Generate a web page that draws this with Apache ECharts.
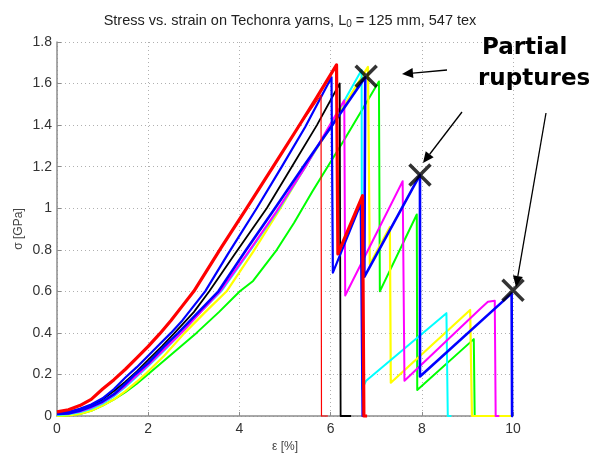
<!DOCTYPE html>
<html><head><meta charset="utf-8">
<script src="https://cdn.jsdelivr.net/npm/echarts@6/dist/echarts.min.js"></script>
<style>html,body{margin:0;padding:0;background:#fff}#c{width:597px;height:462px}</style>
</head><body><div id="c"></div>
<script>
// Tick labels
const xTicks = [0, 2, 4, 6, 8, 10];
const yTicks = [0, 0.2, 0.4, 0.6, 0.8, 1, 1.2, 1.4, 1.6, 1.8];

// Curves: [strain %, stress GPa]
const greenData = [[0,0],[0.25,0.003],[0.5,0.01],[0.75,0.025],[1,0.05],[1.25,0.08],[1.5,0.115],[1.75,0.155],[1.99,0.2],[2.5,0.295],[3.06,0.4],[3.55,0.5],[4.01,0.6],[4.3,0.65],[4.82,0.8],[5.2,0.93],[5.6,1.08],[6.3,1.33],[7.06,1.61],[7.08,0.6],[7.89,0.97],[7.9,0.125],[9.14,0.37],[9.16,0],[9.3,0]];
const yellowData = [[0,0],[0.25,0.003],[0.5,0.01],[0.75,0.025],[1,0.05],[1.25,0.08],[1.5,0.12],[1.75,0.165],[1.93,0.2],[2.35,0.29],[2.8,0.4],[3.25,0.5],[3.72,0.6],[4.3,0.79],[4.9,1.0],[5.5,1.22],[6.2,1.46],[6.82,1.68],[6.86,0.73],[7.3,0.91],[7.32,0.16],[9.06,0.51],[9.1,0],[10,0]];
const cyanData = [[0,0.005],[0.25,0.008],[0.5,0.018],[0.75,0.035],[1,0.06],[1.25,0.095],[1.5,0.14],[1.75,0.19],[2,0.24],[2.35,0.315],[2.73,0.4],[3.15,0.5],[3.6,0.6],[4.25,0.8],[4.85,0.99],[5.45,1.2],[6.05,1.42],[6.68,1.665],[6.69,0.13],[6.78,0.17],[8.54,0.495],[8.57,0],[8.65,0]];
const magentaData = [[0,0.01],[0.25,0.012],[0.5,0.022],[0.75,0.04],[1,0.065],[1.25,0.1],[1.5,0.145],[1.75,0.195],[2,0.245],[2.35,0.32],[2.73,0.4],[3.15,0.5],[3.58,0.6],[4.2,0.79],[4.8,0.98],[5.45,1.2],[6.3,1.52],[6.32,0.58],[7.58,1.13],[7.62,0.17],[9.3,0.52],[9.45,0.55],[9.6,0.555],[9.62,0],[9.7,0]];
const blackData = [[0,0.01],[0.25,0.015],[0.5,0.03],[0.75,0.05],[1,0.08],[1.25,0.12],[1.5,0.165],[1.75,0.215],[2,0.27],[2.3,0.335],[2.58,0.4],[3,0.5],[3.34,0.6],[3.9,0.78],[4.6,1.0],[5.15,1.2],[5.7,1.4],[6.2,1.6],[6.22,0],[6.45,0]];
const blueAData = [[0,0.015],[0.25,0.02],[0.5,0.035],[0.75,0.055],[1,0.085],[1.25,0.13],[1.5,0.185],[1.75,0.235],[2,0.29],[2.25,0.345],[2.5,0.4],[2.75,0.46],[3,0.53],[3.25,0.6],[3.75,0.78],[4.38,1.0],[4.93,1.2],[5.44,1.39],[6.02,1.63],[6.05,0.69],[6.66,1.02],[6.7,0],[6.75,0]];
const blueBData = [[0,0.01],[0.25,0.012],[0.5,0.025],[0.75,0.045],[1,0.07],[1.25,0.105],[1.5,0.155],[1.71,0.2],[2,0.255],[2.33,0.33],[2.66,0.4],[3.1,0.5],[3.54,0.6],[4.15,0.8],[4.78,1.0],[5.4,1.2],[6.1,1.42],[6.76,1.63],[6.74,0.67],[7.96,1.16],[7.96,0.19],[9.97,0.59],[9.98,0],[10,0]];
const redThinData = [[0,0.02],[0.25,0.03],[0.5,0.05],[0.75,0.08],[1,0.13],[1.25,0.175],[1.5,0.225],[1.75,0.28],[2,0.335],[2.25,0.395],[2.5,0.46],[2.75,0.53],[3,0.6],[3.6,0.81],[4.16,1.0],[4.74,1.2],[5.26,1.38],[5.79,1.545],[5.8,0],[5.94,0]];
const redData = [[0,0.02],[0.25,0.03],[0.5,0.05],[0.75,0.08],[1,0.13],[1.25,0.175],[1.5,0.225],[1.75,0.28],[2,0.335],[2.25,0.395],[2.5,0.46],[2.75,0.53],[3,0.6],[3.6,0.81],[4.16,1.0],[4.74,1.2],[5.26,1.38],[5.7,1.535],[6.13,1.69],[6.16,0.78],[6.7,1.06],[6.73,0],[6.8,0]];
// Rupture markers
const ruptureMarks = [[6.78,1.635],[7.96,1.16],[10,0.605]];

const chart = echarts.init(document.getElementById('c'), null, {renderer:'canvas'});
function line(name, data, color, width){
  return {name, type:'line', data, showSymbol:false, symbol:'none', clip:false,
    lineStyle:{color, width, join:'round'}, itemStyle:{color}, animation:false};
}
const option = {
  animation:false,
  backgroundColor:'#fff',
  title:{
    text:'{a|Stress vs. strain on Techonra yarns, L}{s|0}{a| = 125 mm, 547 tex}',
    left:285, top:7, textAlign:'center',
    textStyle:{fontWeight:'normal', rich:{
      a:{fontFamily:'Liberation Sans, Arial', fontSize:14.5, fontWeight:'normal', color:'#222'},
      s:{fontFamily:'Liberation Sans, Arial', fontSize:10, fontWeight:'normal', color:'#222', verticalAlign:'bottom', padding:[7,0,0,0]}
    }}
  },
  grid:{left:57, right:84, top:42, bottom:46},
  xAxis:{type:'value', min:0, max:10, interval:2,
    name:'ε [%]', nameLocation:'middle', nameGap:24,
    nameTextStyle:{fontFamily:'Liberation Sans, Arial', fontSize:12, color:'#444'},
    axisLine:{show:true, lineStyle:{color:'#8c8c8c', width:1.5}},
    axisTick:{show:true, inside:true, length:4, lineStyle:{color:'#8c8c8c'}},
    axisLabel:{fontFamily:'Liberation Sans, Arial', fontSize:14, color:'#333', margin:6,
      formatter:v=>xTicks.includes(v)?String(v):''},
    splitLine:{show:true, lineStyle:{type:[1,3], color:'#b0b0b0', width:1}}
  },
  yAxis:{type:'value', min:0, max:1.8, interval:0.2,
    name:'σ [GPa]', nameLocation:'middle', nameGap:32, nameMoveOverlap:false,
    nameTextStyle:{fontFamily:'Liberation Sans, Arial', fontSize:12, color:'#444'},
    axisLine:{show:true, lineStyle:{color:'#8c8c8c', width:1.5}},
    axisTick:{show:true, inside:true, length:4, lineStyle:{color:'#8c8c8c'}},
    axisLabel:{fontFamily:'Liberation Sans, Arial', fontSize:14, color:'#333', margin:5,
      formatter:v=>{const t=yTicks.find(k=>Math.abs(k-v)<1e-6); return t===undefined?'':String(t);}},
    splitLine:{show:true, lineStyle:{type:[1,3], color:'#b0b0b0', width:1}}
  },
  series:[
    line('green', greenData, '#00ff00', 2),
    line('yellow', yellowData, '#ffff00', 2.2),
    line('cyan', cyanData, '#00ffff', 2),
    line('magenta', magentaData, '#ff00ff', 2),
    line('black', blackData, '#000000', 1.8),
    line('blueA', blueAData, '#0000ff', 2.2),
    line('blueB', blueBData, '#0000ff', 2.6),
    line('redThin', redThinData, '#ff0000', 1.2),
    line('red', redData, '#ff0000', 3.2),
    {name:'ruptures', type:'scatter', data:ruptureMarks, clip:false,
      symbol:'path://M0,0L10,10M10,0L0,10', symbolSize:21,
      itemStyle:{color:'none', borderColor:'#000', borderWidth:3.5}, z:10}
  ]
};
chart.setOption(option);

// Annotation arrows (pixel space, pointing to the rupture markers)
function arrow(x1,y1,x2,y2){
  const ang=Math.atan2(y2-y1,x2-x1), L=11, W=5;
  const bx=x2-L*Math.cos(ang), by=y2-L*Math.sin(ang);
  const px=-Math.sin(ang)*W, py=Math.cos(ang)*W;
  return [
    {type:'line', shape:{x1,y1,x2:bx,y2:by}, style:{stroke:'#000', lineWidth:1.3}, z:20},
    {type:'polygon', shape:{points:[[x2,y2],[bx+px,by+py],[bx-px,by-py]]}, style:{fill:'#000'}, z:20}
  ];
}
const g = [
  {type:'text', left:482, top:37, style:{text:'Partial', font:'bold 23px "DejaVu Sans"', fill:'#000'}, z:20},
  {type:'text', left:478, top:68, style:{text:'ruptures', font:'bold 23px "DejaVu Sans"', fill:'#000'}, z:20},
  ...arrow(447,70,402,74),
  ...arrow(462,112,423,163),
  ...arrow(546,113,516,287)
];
chart.setOption({graphic:g});
</script>
</body></html>
